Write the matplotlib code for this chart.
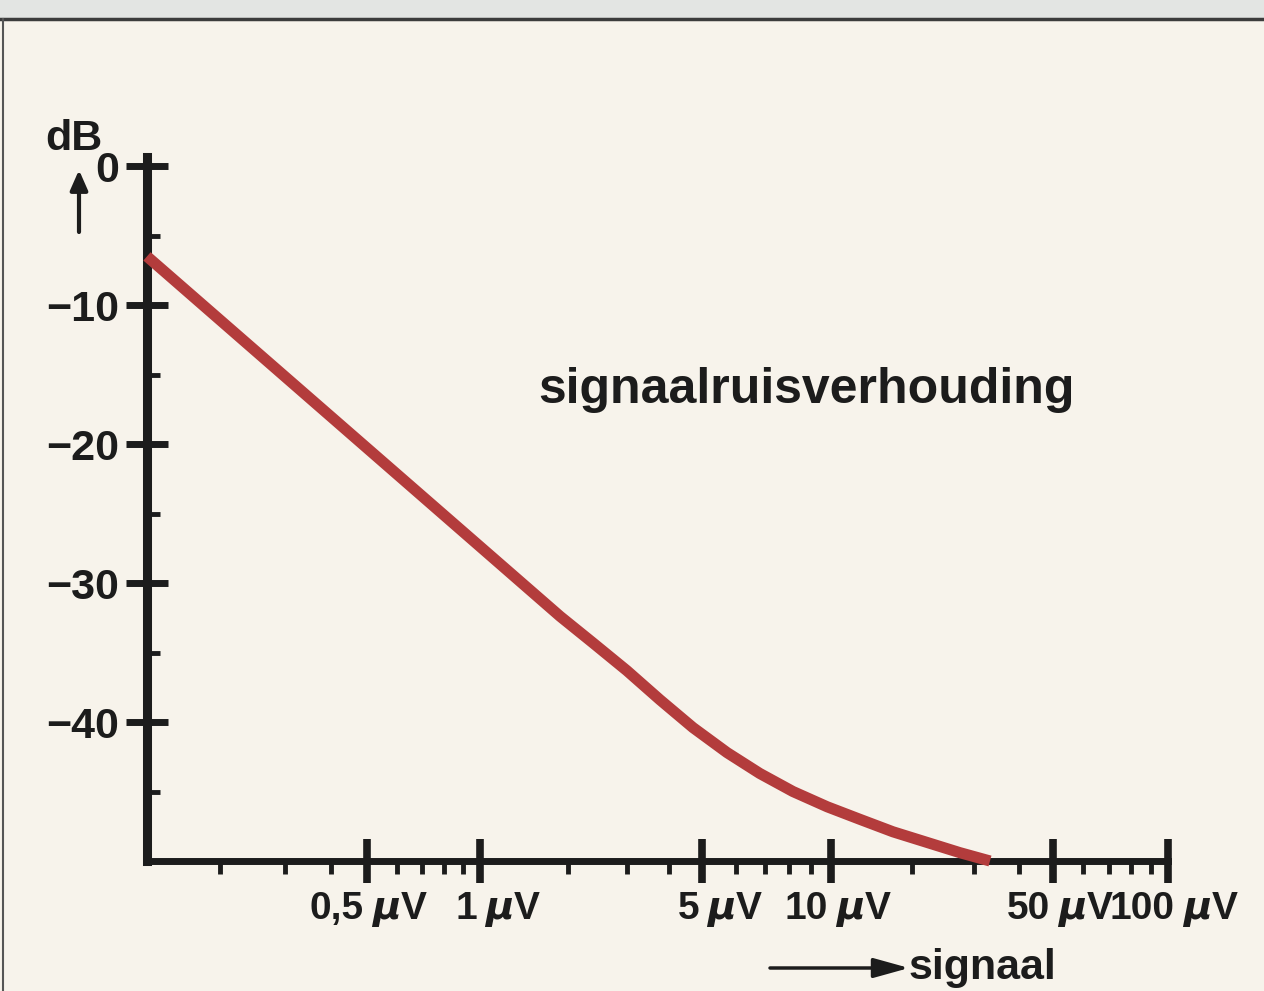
import os
import numpy as np
import matplotlib.pyplot as plt
import matplotlib.transforms as mtransforms
from matplotlib import font_manager
from matplotlib.font_manager import FontProperties
from matplotlib.lines import Line2D
from matplotlib.patches import Rectangle

# signaal (uV) tegen signaalruisverhouding (dB)
signal_uv = [0.1, 1.88, 2.37, 2.99, 3.75, 4.7, 5.72, 6.82, 8.15, 9.8, 12.8, 17, 27.3, 33.2]
snr_db = [-6.5, -32.4, -34.3, -36.3, -38.4, -40.4, -42.2, -43.7, -45.0, -46.1,
          -47.0, -47.9, -49.4, -50.0]

x_major = [0.5, 1, 5, 10, 50, 100]
x_major_numbers = ['0,5', '1', '5', '10', '50', '100']
x_minor = [0.2, 0.3, 0.4, 0.6, 0.7, 0.8, 0.9, 2, 3, 4, 6, 7, 8, 9,
           20, 30, 40, 60, 70, 80, 90]
y_major = [0, -10, -20, -30, -40]
y_major_labels = ['0', '\u221210', '\u221220', '\u221230', '\u221240']
y_minor = [-5, -15, -25, -35, -45]

# the drawn signal axis is not a clean log axis: piecewise log scale
scale_values = [0.1, 0.2, 0.5, 1, 2, 5, 10, 20, 50, 100]
scale_frac = (np.array([147, 220, 367, 480, 568, 702, 831, 912, 1053, 1168]) - 147) / 1021
scale_logs = np.log10(scale_values)


def forward(v):
    v = np.clip(np.asarray(v, dtype=float), 1e-3, None)
    return np.interp(np.log10(v), scale_logs, scale_frac)


def inverse(p):
    return 10 ** np.interp(p, scale_frac, scale_logs)


paper = '#f7f3eb'
ink = '#1c1c1c'
red = '#b33c3c'

# a condensed bold face for the x labels if one is installed
condensed = [f.fname for f in font_manager.fontManager.ttflist
             if os.path.basename(f.fname).startswith('NotoSans-')
             and 'CondensedBold' in f.fname and 'Italic' not in f.fname
             and 'Extra' not in f.fname and 'Semi' not in f.fname]
if condensed:
    label_font = FontProperties(fname=condensed[0], size=34)
else:
    label_font = FontProperties(family='Liberation Sans', weight='bold', size=28)

plt.rcParams['font.family'] = ['Liberation Sans', 'DejaVu Sans']
plt.rcParams['font.weight'] = 'bold'
plt.rcParams['mathtext.fontset'] = 'custom'
plt.rcParams['mathtext.it'] = 'Liberation Sans:italic'
plt.rcParams['mathtext.rm'] = 'Liberation Sans'

W, H = 1264, 991


def px(x, y):
    return x / W, 1 - y / H


fig = plt.figure(figsize=(W / 100, H / 100), dpi=100, facecolor=paper)
ax = fig.add_axes([147 / W, 1 - 861 / H, 1021 / W, (861 - 157) / H])
ax.set_facecolor('none')
ax.set_xscale('function', functions=(forward, inverse))
ax.set_xlim(0.1, 100)
ax.set_ylim(-50, 0.65)

# curve
ax.plot(signal_uv, snr_db, color=red, lw=8, solid_capstyle='butt',
        solid_joinstyle='round', clip_on=False, zorder=3)

# axes
for side in ['top', 'right']:
    ax.spines[side].set_visible(False)
ax.spines['left'].set_linewidth(6.5)
ax.spines['bottom'].set_linewidth(5)
for side in ['left', 'bottom']:
    ax.spines[side].set_color(ink)
    ax.spines[side].set_capstyle('projecting')

ax.set_yticks(y_major, y_major_labels)
ax.set_yticks(y_minor, minor=True)
ax.tick_params(axis='y', which='major', direction='inout', length=30, width=5,
               pad=5, labelsize=31, color=ink, labelcolor=ink)
ax.tick_params(axis='y', which='minor', direction='in', length=9.5, width=3.5, color=ink)

ax.set_xticks(x_major, [''] * len(x_major))
ax.set_xticks(x_minor, minor=True)
ax.tick_params(axis='x', which='major', direction='inout', length=31, width=5.5, color=ink)
ax.tick_params(axis='x', which='minor', direction='out', length=9, width=3.5, color=ink)

# x labels: number left of the tick, unit right of it (the 100 sits on its tick)
base = ax.get_xaxis_transform()
for v, num in zip(x_major, x_major_numbers):
    shift = 10 if num == '100' else 0
    num_tr = mtransforms.offset_copy(base, fig=fig, x=shift - 3, y=-58, units='dots')
    unit_tr = mtransforms.offset_copy(base, fig=fig, x=shift + 4, y=-58, units='dots')
    ax.text(v, 0, num, transform=num_tr, ha='right', va='baseline',
            fontproperties=label_font, color=ink)
    ax.text(v, 0, r'$\mu$V', transform=unit_tr, ha='left', va='baseline',
            fontproperties=label_font, color=ink)

# texts and arrows
fig.text(*px(806, 403), 'signaalruisverhouding', ha='center', va='baseline',
         fontsize=36, color=ink)
fig.text(*px(45, 150), 'dB', ha='left', va='baseline', fontsize=31, color=ink)
ax.annotate('', xy=px(79, 170), xytext=px(79, 232), xycoords='figure fraction',
            arrowprops=dict(arrowstyle='-|>,head_length=0.5,head_width=0.22',
                            lw=3, color=ink, mutation_scale=24, shrinkA=0, shrinkB=0))
fig.text(*px(909, 979), 'signaal', ha='left', va='baseline', fontsize=31, color=ink)
ax.annotate('', xy=px(909, 968), xytext=px(770, 968), xycoords='figure fraction',
            arrowprops=dict(arrowstyle='-|>,head_length=0.9,head_width=0.25',
                            lw=2.5, color=ink, mutation_scale=24, shrinkA=0, shrinkB=0))

# page frame of the scan
fig.add_artist(Rectangle((0, 1 - 17 / H), 1, 17 / H, transform=fig.transFigure,
                         color='#e3e5e3', zorder=0))
fig.add_artist(Line2D([0, 1], [1 - 19 / H] * 2, transform=fig.transFigure,
                      lw=2.5, color='#3c3c3c'))
fig.add_artist(Line2D([3 / W] * 2, [0, 1 - 19 / H], transform=fig.transFigure,
                      lw=1.5, color='#555555'))

fig.savefig('out.png', dpi=100, facecolor=paper)
plt.close(fig)
